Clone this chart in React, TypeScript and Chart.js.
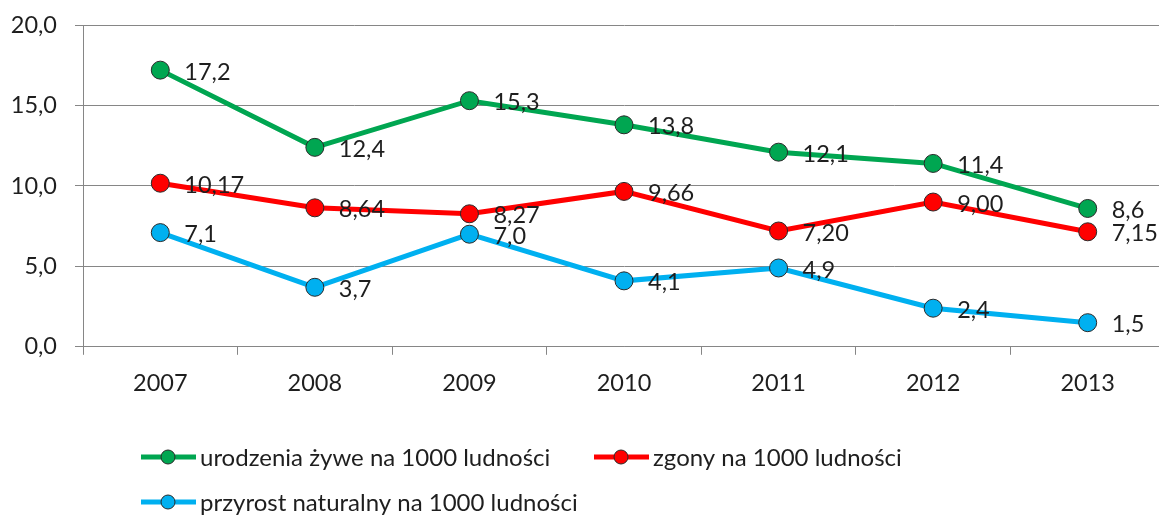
import React, { useEffect, useRef } from "react";
import { Chart, registerables } from "chart.js";

Chart.register(...registerables);

const categories = ["2007", "2008", "2009", "2010", "2011", "2012", "2013"];
const birthsLabel = "urodzenia żywe na 1000 ludności";
const deathsLabel = "zgony na 1000 ludności";
const growthLabel = "przyrost naturalny na 1000 ludności";
const births = [17.2, 12.4, 15.3, 13.8, 12.1, 11.4, 8.6];
const deaths = [10.17, 8.64, 8.27, 9.66, 7.2, 9.0, 7.15];
const growth = [7.1, 3.7, 7.0, 4.1, 4.9, 2.4, 1.5];
const decimals = [1, 2, 1];

const FONT = "Lato, 'Open Sans', sans-serif";
const SIZE = 23.5;
const TEXT = "#1e1e1e";
const SHIFT = 7;

const fmt = (v: number, d: number) => v.toFixed(d).replace(".", ",");

const labelsPlugin = {
  id: "pointLabels",
  afterDatasetsDraw(chart: any) {
    const ctx = chart.ctx;
    ctx.save();
    ctx.font = `${SIZE}px ${FONT}`;
    ctx.fillStyle = TEXT;
    ctx.textAlign = "left";
    ctx.textBaseline = "middle";
    chart.data.datasets.forEach((ds: any, i: number) => {
      const meta = chart.getDatasetMeta(i);
      meta.data.forEach((pt: any, j: number) => {
        ctx.fillText(fmt(ds.data[j], decimals[i]), pt.x + 24, pt.y + 2);
      });
    });
    ctx.restore();
  },
};

const legendPlugin = {
  id: "customLegend",
  afterDraw(chart: any) {
    const ctx = chart.ctx;
    const slots = [
      { x: 141, y: 457 },
      { x: 594, y: 457 },
      { x: 141, y: 502 },
    ];
    ctx.save();
    ctx.font = `24px ${FONT}`;
    ctx.textBaseline = "middle";
    ctx.textAlign = "left";
    chart.data.datasets.forEach((ds: any, i: number) => {
      const s = { x: slots[i].x, y: slots[i].y + SHIFT };
      ctx.strokeStyle = ds.borderColor;
      ctx.lineWidth = 5;
      ctx.beginPath();
      ctx.moveTo(s.x, s.y);
      ctx.lineTo(s.x + 55, s.y);
      ctx.stroke();
      ctx.beginPath();
      ctx.arc(s.x + 27, s.y, 7, 0, Math.PI * 2);
      ctx.fillStyle = ds.pointBackgroundColor;
      ctx.fill();
      ctx.lineWidth = 1;
      ctx.strokeStyle = "#2a2a2a";
      ctx.stroke();
      ctx.fillStyle = TEXT;
      ctx.fillText(ds.label, s.x + 59, s.y + 1);
    });
    ctx.restore();
  },
};

export default function App() {
  const ref = useRef<HTMLCanvasElement>(null);
  useEffect(() => {
    if (!ref.current) return;
    const mk = (label: string, data: number[], color: string) => ({
      label,
      data,
      borderColor: color,
      backgroundColor: color,
      pointBackgroundColor: color,
      pointBorderColor: "#2a2a2a",
      pointBorderWidth: 1,
      pointRadius: 9,
      borderWidth: 5,
      tension: 0,
      fill: false,
    });
    const chart = new Chart(ref.current, {
      type: "line",
      data: {
        labels: categories,
        datasets: [
          mk(birthsLabel, births, "#00A651"),
          mk(deathsLabel, deaths, "#FF0000"),
          mk(growthLabel, growth, "#00B0F0"),
        ],
      },
      options: {
        animation: false,
        responsive: false,
        layout: { padding: { top: 5, right: 0, bottom: 102, left: 0 } },
        plugins: { legend: { display: false }, tooltip: { enabled: false } },
        scales: {
          x: {
            offset: true,
            grid: {
              offset: true,
              drawOnChartArea: false,
              drawTicks: true,
              tickLength: 8,
              color: "#868686",
            },
            border: { color: "#868686", width: 1 },
            ticks: { font: { family: FONT, size: SIZE }, color: TEXT, padding: 15 },
          },
          y: {
            min: 0,
            max: 20,
            afterFit(scale: any) {
              scale.width = 83;
            },
            grid: { color: "#868686", tickLength: 8, drawTicks: true },
            border: { color: "#868686", width: 1 },
            ticks: {
              stepSize: 5,
              font: { family: FONT, size: SIZE },
              color: TEXT,
              padding: 18,
              callback: (v: any) => fmt(Number(v), 1),
            },
          },
        },
      },
      plugins: [labelsPlugin, legendPlugin],
    });
    return () => chart.destroy();
  }, []);
  return (
    <div
      style={{
        position: "fixed",
        left: 0,
        top: 0,
        width: 1159,
        height: 515,
        overflow: "hidden",
        background: "#fff",
      }}
    >
      <canvas
        ref={ref}
        width={1175}
        height={515 + SHIFT}
        style={{ display: "block", position: "absolute", left: 0, top: -SHIFT }}
      />
    </div>
  );
}
